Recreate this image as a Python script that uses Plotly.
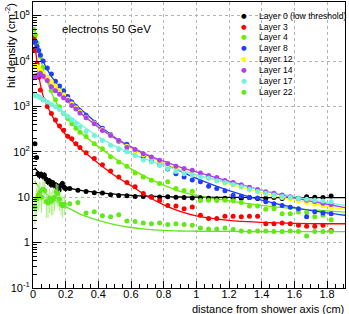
import plotly.graph_objects as go

# ---------------- data ----------------
layer_names = ["Layer 0 (low threshold)", "Layer 3", "Layer 4", "Layer 8",
               "Layer 12", "Layer 14", "Layer 17", "Layer 22"]
layer_colors = ["#000000", "#ff0000", "#66ee00", "#1f3cff",
                "#ffff00", "#b23cf0", "#70f2dc", "#5fe81e"]

x_bins = [0.005, 0.015, 0.025, 0.035, 0.045, 0.0625, 0.0875, 0.1125, 0.1375, 0.1625,
          0.1875, 0.2125, 0.2375, 0.2625, 0.2875,
          0.325, 0.375, 0.425, 0.475, 0.525, 0.575, 0.625, 0.675, 0.725, 0.775,
          0.825, 0.875, 0.925, 0.975, 1.025, 1.075, 1.125, 1.175, 1.225, 1.275,
          1.325, 1.375, 1.425, 1.475, 1.525, 1.575, 1.625, 1.675, 1.725, 1.775, 1.825]

layer3 = [33000, 17000, 8700, 4400, 2300, 1400, 1000, 700, 500, 370, 300, 220, 195, 150, 124,
          95, 71, 52, 38, 28, 21, 17, 12, 10, 8.5, 6.6, 6.4, 5.6, 6.1, 4.0, 3.4, 3.4, 3.8, 3.8, 3.7,
          3.8, 3.8, 2.6, 2.6, 2.7, 2.6, 2.4, 2.3, 2.3, 2.4, 1.85]
layer4 = [50000, 38000, 25000, 17000, 12500, 7200, 3700, 2250, 1400, 980, 700, 540, 415, 330, 270,
          218, 151, 117, 78, 60, 48, 34, 28, 23.5, 20, 22, 15.5, 14, 13.5, 8.5, 8.6, 8.5, 8.6, 8.4, 7.6,
          6.4, 6.4, 5.4, 5.6, 4.3, 4.3, 4.7, 4.6, 3.7, 4.0, 3.2]
layer8 = [26000, 27000, 21000, 17000, 13500, 10000, 7000, 5200, 3600, 2800, 2200, 1650, 1250, 1000, 800,
          640, 450, 330, 240, 170, 146, 105, 80, 66, 52, 42, 33, 28, 24, 22, 17.5, 15.5, 13.8, 11, 10.5,
          9.8, 9.6, 7.9, 7.2, 6.6, 6.0, 5.6, 3.7, 4.8, 4.5, 4.3]
layer12 = [7500, 8000, 7600, 7000, 6300, 5400, 4400, 3500, 2800, 2200, 1800, 1450, 1150, 930, 760,
           580, 430, 310, 235, 175, 132, 105, 86, 72, 60, 52, 44, 38, 33, 29, 26, 23, 20.5, 18.5, 16.5,
           14.5, 13, 11.8, 10.6, 9.8, 9.0, 8.3, 7.6, 7.0, 6.5, 6.0]
layer14 = [4300, 4500, 4800, 5000, 5400, 4600, 3700, 2700, 2200, 1850, 1550, 1350, 1050, 880, 720,
           560, 415, 295, 230, 178, 124, 112, 91, 77, 65, 55, 48, 43, 39, 34, 30, 27, 23.4, 21, 18.8,
           16.6, 14.7, 13.2, 12.2, 11.2, 10.2, 9.4, 8.6, 8.0, 7.4, 6.9]
layer17 = [1750, 1800, 1700, 1650, 1550, 1400, 1250, 1100, 980, 850, 700, 600, 500, 420, 350,
           280, 230, 178, 140, 117, 100, 83, 66, 60, 50, 43, 37, 33, 31, 28, 26, 23, 21, 19, 17,
           15, 13.3, 12.2, 11.2, 10.4, 9.8, 9.4, 9.0, 8.6, 8.3, 7.9]

x_layer0 = [0.002, 0.012, 0.022, 0.03, 0.04, 0.05, 0.06, 0.07, 0.08, 0.09, 0.1, 0.11, 0.12, 0.13,
            0.14, 0.15, 0.16, 0.17, 0.18, 0.19, 0.2,
            0.225, 0.275, 0.325, 0.375, 0.425, 0.475, 0.525, 0.575, 0.625, 0.675, 0.725, 0.775,
            0.825, 0.875, 0.925, 0.975, 1.025, 1.075, 1.125, 1.175, 1.225, 1.275, 1.325, 1.375,
            1.425, 1.475, 1.525, 1.575, 1.625, 1.675, 1.725, 1.775, 1.825]
layer0 = [17000, 150, 75, 33, 30, 32, 29, 31, 25, 22, 23, 19, 21, 18, 18.5, 16, 14.5, 18, 20, 16.5, 15.5,
          15.5, 14.2, 13.3, 12.6, 12.3, 11.3, 10.9, 10.7, 10.4, 10.3, 10.2, 10.1, 10.2, 10.0, 9.8, 9.6,
          9.7, 9.5, 9.3, 9.5, 9.5, 9.5, 9.8, 9.4, 9.5, 9.8, 9.4, 9.8, 9.5, 10.2, 10.0, 9.8, 10.6]
layer0_err = [0, 15, 8, 5, 5, 5, 4.5, 4.5, 4, 3.5, 3.5, 3, 3, 3, 3, 2.5, 2.5, 2.5, 3, 2.5, 2.5,
              0, 0, 0, 0, 0, 0, 0, 0, 0, 0, 0, 0, 0, 0, 0, 0, 0, 0, 0, 0, 0, 0, 0, 0,
              0, 0, 0, 0, 0, 0, 0, 0, 0]

x_layer22 = [0.012, 0.022, 0.032, 0.042, 0.052, 0.062, 0.072, 0.082, 0.092, 0.102, 0.112, 0.122,
             0.132, 0.142, 0.152, 0.162, 0.172, 0.182, 0.192,
             0.225, 0.275, 0.325, 0.375, 0.425, 0.475, 0.525, 0.575, 0.625, 0.675, 0.725, 0.775,
             0.825, 0.875, 0.925, 0.975, 1.025, 1.075, 1.125, 1.175, 1.225, 1.275, 1.325, 1.375,
             1.425, 1.475, 1.525, 1.575, 1.625, 1.675, 1.725, 1.775, 1.825]
layer22 = [6, 9, 11, 13, 10, 15, 14, 8, 7.5, 9.5, 8, 9, 10, 13, 12, 9, 7, 6.5, 7,
           7.2, 7.6, 4.5, 4.8, 3.9, 3.7, 4.1, 3.0, 2.9, 2.7, 2.6, 2.7, 2.5, 2.6, 2.5, 2.4, 2.1, 2.0,
           2.0, 2.1, 1.95, 1.8, 1.75, 1.8, 1.8, 1.75, 1.75, 1.8, 1.75, 1.4, 1.75, 1.75, 1.75]
layer22_err_up = [5, 7, 8, 9, 7, 9, 9, 6, 5, 6, 5, 6, 6, 7, 7, 5, 4, 4, 4,
                  0, 0, 0, 0, 0, 0, 0, 0, 0, 0, 0, 0, 0, 0, 0, 0, 0, 0, 0, 0, 0, 0, 0, 0,
                  0, 0, 0, 0, 0, 0, 0, 0, 0]
layer22_err_dn = [3.5, 5, 6, 7, 5.5, 8, 7, 4.5, 4, 5, 4, 5, 5, 6, 6, 4, 3, 3, 3,
                  0, 0, 0, 0, 0, 0, 0, 0, 0, 0, 0, 0, 0, 0, 0, 0, 0, 0, 0, 0, 0, 0, 0, 0,
                  0, 0, 0, 0, 0, 0, 0, 0, 0]

fit_x = [0.01, 0.02, 0.04, 0.06, 0.08, 0.1, 0.13, 0.16, 0.2, 0.25, 0.3, 0.4, 0.5, 0.6, 0.7,
         0.8, 0.9, 1.0, 1.2, 1.4, 1.6, 1.8, 1.91]
fit_layer0 = [45, 40, 34, 30, 27, 24.5, 21, 19, 16.5, 15, 14, 12.6, 11.7, 11, 10.6, 10.3, 10.1, 10,
              9.9, 9.8, 9.8, 9.8, 9.8]
fit_layer3 = [28000, 13000, 3800, 1800, 1150, 820, 510, 360, 240, 160, 110, 56, 30, 18, 10.5, 6.8,
              4.9, 3.9, 3.1, 2.8, 2.65, 2.6, 2.6]
fit_layer4 = [50000, 30000, 14000, 7200, 4200, 2600, 1500, 950, 600, 380, 250, 130, 72, 42, 27, 18.5,
              13.5, 11, 8.3, 6.6, 5.6, 5.0, 4.7]
fit_layer8 = [30000, 24000, 15000, 10000, 7300, 5400, 3700, 2700, 1850, 1200, 820, 400, 210, 128, 82,
              56, 38, 26, 14, 8.6, 5.9, 4.5, 4.0]
fit_layer12 = [8200, 7700, 6600, 5600, 4700, 4000, 3000, 2300, 1650, 1100, 700, 360, 200, 118, 78, 56,
               41, 31, 19.6, 12.8, 8.8, 6.3, 5.4]
fit_layer14 = [5200, 5100, 4800, 4300, 3800, 3200, 2500, 1900, 1400, 950, 660, 350, 200, 128, 86, 62,
               46, 36, 22.5, 14.3, 9.7, 7.0, 5.9]
fit_layer17 = [1800, 1750, 1650, 1500, 1380, 1250, 1050, 880, 700, 520, 380, 215, 135, 92, 67, 50, 39,
               31, 21, 14.5, 10.3, 7.6, 6.6]
fit_layer22 = [23, 20, 16, 14, 12, 10.5, 8.8, 7.5, 6.2, 5.0, 4.1, 3.1, 2.5, 2.15, 1.95, 1.85, 1.8, 1.78,
               1.76, 1.75, 1.75, 1.75, 1.75]

x_tick_vals = [0, 0.2, 0.4, 0.6, 0.8, 1.0, 1.2, 1.4, 1.6, 1.8]
x_tick_text = ["0", "0.2", "0.4", "0.6", "0.8", "1", "1.2", "1.4", "1.6", "1.8"]
y_tick_vals = [0.1, 1, 10, 100, 1000, 10000, 100000]
y_tick_text = ["10<sup>-1</sup>", "1", "10", "10<sup>2</sup>", "10<sup>3</sup>",
               "10<sup>4</sup>", "10<sup>5</sup>"]

# ---------------- figure ----------------
FONT = "Liberation Sans, Arial, Helvetica, sans-serif"
fig = go.Figure()

fits = [fit_layer0, fit_layer3, fit_layer4, fit_layer8, fit_layer12, fit_layer14, fit_layer17, fit_layer22]
for fy, col in zip(fits, layer_colors):
    fig.add_trace(go.Scatter(x=fit_x, y=fy, mode="lines", line=dict(color=col, width=1.3, shape="spline"),
                             showlegend=False, hoverinfo="skip"))

fig.add_trace(go.Scatter(x=x_layer0, y=layer0, mode="markers", name=layer_names[0],
                         marker=dict(color=layer_colors[0], size=5),
                         error_y=dict(type="data", array=layer0_err, color="#000000", thickness=1, width=0),
                         showlegend=False))
series = [(x_bins, layer3), (x_bins, layer4), (x_bins, layer8), (x_bins, layer12),
          (x_bins, layer14), (x_bins, layer17)]
for i, (xs, ys) in enumerate(series, start=1):
    fig.add_trace(go.Scatter(x=xs, y=ys, mode="markers", name=layer_names[i],
                             marker=dict(color=layer_colors[i], size=5), showlegend=False))
fig.add_trace(go.Scatter(x=x_layer22, y=layer22, mode="markers", name=layer_names[7],
                         marker=dict(color=layer_colors[7], size=5),
                         error_y=dict(type="data", symmetric=False, array=layer22_err_up,
                                      arrayminus=layer22_err_dn, color="#a6f07a", thickness=1, width=0),
                         showlegend=False))

y_minor = [m * 10 ** e for e in range(-1, 6) for m in range(2, 10)]
x_minor = [i * 0.05 for i in range(0, 39)]

fig.update_xaxes(range=[0, 1.91], tickmode="array", tickvals=x_tick_vals, ticktext=x_tick_text,
                 ticks="inside", ticklen=7, tickcolor="black", showline=True, linecolor="black",
                 linewidth=1, mirror=True, showgrid=True, gridcolor="#b4b4b4", griddash="dot",
                 gridwidth=1, zeroline=False, tickfont=dict(family=FONT, size=11, color="black"),
                 ticklabelstandoff=-4,
                 minor=dict(tickmode="array", tickvals=x_minor, ticks="inside", ticklen=4,
                            tickcolor="black", showgrid=False))
fig.update_yaxes(type="log", range=[-1, 5.3], tickmode="array", tickvals=y_tick_vals, ticktext=y_tick_text,
                 ticks="inside", ticklen=8, tickcolor="black", showline=True, linecolor="black",
                 linewidth=1, mirror=True, showgrid=True, gridcolor="#b4b4b4", griddash="dot",
                 gridwidth=1, zeroline=False, tickfont=dict(family=FONT, size=11, color="black"),
                 minor=dict(tickmode="array", tickvals=y_minor, ticks="inside", ticklen=4,
                            tickcolor="black", showgrid=False))

annotations = []
annotations.append(dict(text="electrons 50 GeV", xref="paper", yref="paper", x=0.086, y=0.906,
                        xanchor="left", yanchor="middle", showarrow=False,
                        font=dict(family=FONT, size=11.5, color="black")))
annotations.append(dict(text="distance from shower axis (cm)", xref="paper", yref="paper",
                        x=1.003, y=-0.072, xanchor="right", yanchor="middle", showarrow=False,
                        font=dict(family=FONT, size=11, color="black")))
annotations.append(dict(text="hit density (cm<sup>-2</sup>)", xref="paper", yref="paper",
                        x=-0.074, y=1.005, xanchor="center", yanchor="top", textangle=-90,
                        showarrow=False, font=dict(family=FONT, size=11.5, color="black")))
for i, (nm, col) in enumerate(zip(layer_names, layer_colors)):
    py = 15.7 + 10.86 * i
    yp = (288 - py) / 286
    annotations.append(dict(text="●", xref="paper", yref="paper", x=(244 - 33) / 312, y=yp,
                            xanchor="center", yanchor="middle", showarrow=False,
                            font=dict(family="DejaVu Sans", size=6.5, color=col)))
    annotations.append(dict(text=nm, xref="paper", yref="paper", x=(256.5 - 33) / 312, y=yp,
                            xanchor="left", yanchor="middle", showarrow=False,
                            font=dict(family=FONT, size=8.6, color="black")))

fig.update_layout(width=349, height=314, margin=dict(l=33, r=4, t=2, b=26),
                  paper_bgcolor="white", plot_bgcolor="white", showlegend=False,
                  annotations=annotations)

fig.write_html("out.html", config={"displayModeBar": False},
               post_script="document.body.style.margin='0';document.body.style.padding='0';")
